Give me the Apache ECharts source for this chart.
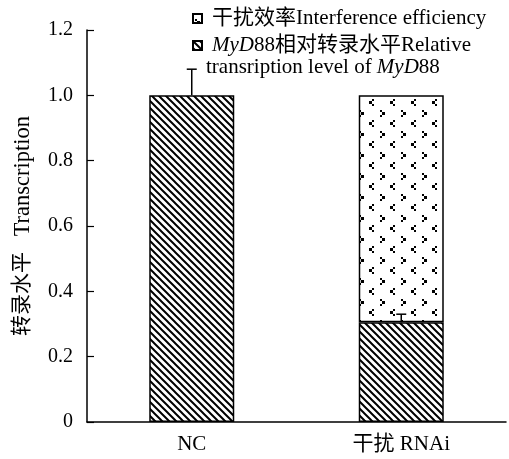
<!DOCTYPE html>
<html>
<head>
<meta charset="utf-8">
<script src="https://cdn.jsdelivr.net/npm/echarts@6/dist/echarts.min.js"></script>
<style>
html,body{margin:0;padding:0;background:#fff;}
#c{width:509px;height:459px;}
</style>
</head>
<body>
<div id="c"></div>
<script>
// ---- data ----
var categories = ['NC', '干扰 RNAi'];
var relativeLevel = [1.0, 0.305];          // MyD88 relative transcription level
var interferenceEff = [null, 0.695];        // interference efficiency (stacked on top)
var errorUpper = [1.08, 0.33];              // top of error bars on relative level
var yTicks = [0, 0.2, 0.4, 0.6, 0.8, 1.0, 1.2];

var FONT = "'Liberation Serif','Noto Sans CJK SC',serif";

function stripeTile() {
  var s = 7;
  var c = document.createElement('canvas');
  c.width = s; c.height = s;
  var g = c.getContext('2d');
  g.fillStyle = '#fff'; g.fillRect(0, 0, s, s);
  g.strokeStyle = '#000'; g.lineWidth = 2;
  g.beginPath();
  g.moveTo(-2, -2); g.lineTo(s + 2, s + 2);
  g.moveTo(-2, s - 2); g.lineTo(2, s + 2);
  g.moveTo(s - 2, -2); g.lineTo(s + 2, 2);
  g.stroke();
  return c;
}
function dotTile() {
  var T = 21;
  var c = document.createElement('canvas');
  c.width = T; c.height = T;
  var g = c.getContext('2d');
  g.fillStyle = '#fff'; g.fillRect(0, 0, T, T);
  g.fillStyle = '#000';
  function right(x, y) { g.fillRect(x, y, 2, 2); g.fillRect(x + 2, y + 2, 3, 3); g.fillRect(x, y + 5, 2, 2); }
  function left(x, y) { g.fillRect(x + 3, y, 2, 2); g.fillRect(x, y + 2, 3, 3); g.fillRect(x + 3, y + 5, 2, 2); }
  [-T, 0, T].forEach(function (dy) {
    right(2, 5 + dy);
    left(12, 15 + dy);
  });
  return c;
}
var stripePattern = { image: stripeTile(), repeat: 'repeat' };
var dotPattern = { image: dotTile(), repeat: 'repeat' };

var chart = echarts.init(document.getElementById('c'), null, { renderer: 'canvas' });

var errData = categories.map(function (c, i) { return [i, relativeLevel[i], errorUpper[i]]; });

var option = {
  animation: false,
  backgroundColor: '#fff',
  textStyle: { fontFamily: FONT },
  grid: { left: 87, right: 3, top: 30, bottom: 37, containLabel: false },
  legend: {
    orient: 'vertical',
    left: 187, top: 3,
    icon: 'rect',
    itemWidth: 9, itemHeight: 9, itemGap: 6,
    data: ['eff', 'rel'],
    selectedMode: false,
    formatter: function (name) {
      return name === 'eff'
        ? '{p|干扰效率Interference efficiency}'
        : '{i|MyD}{n|88相对转录水平Relative}';
    },
    textStyle: {
      fontFamily: FONT, fontSize: 21, color: '#000',
      rich: {
        p: { fontFamily: FONT, fontSize: 21, color: '#000', lineHeight: 22, padding: [0, 0, 0, 5] },
        n: { fontFamily: FONT, fontSize: 21, color: '#000', lineHeight: 22 },
        i: { fontFamily: FONT, fontSize: 21, color: '#000', fontStyle: 'italic', lineHeight: 22, padding: [0, 0, 0, 5] }
      }
    }
  },
  graphic: [{
    type: 'text', left: 206, top: 57,
    style: {
      text: '{n|transription level of }{i|MyD}{n|88}',
      rich: {
        n: { fontFamily: FONT, fontSize: 21, fill: '#000', lineHeight: 22 },
        i: { fontFamily: FONT, fontSize: 21, fill: '#000', fontStyle: 'italic', lineHeight: 22 }
      }
    }
  }],
  xAxis: {
    type: 'category',
    data: categories,
    axisLine: { lineStyle: { color: '#000', width: 1.5 } },
    axisTick: { inside: true, length: 6, lineStyle: { color: '#000', width: 1.2 } },
    axisLabel: { color: '#000', fontSize: 21, fontFamily: FONT, margin: 12 }
  },
  yAxis: {
    type: 'value',
    min: 0, max: 1.2, interval: 0.2,
    name: '{c|转录水平}   {t|Transcription}',
    nameLocation: 'middle', nameGap: 53, nameRotate: 90,
    nameTextStyle: {
      color: '#000', fontSize: 21, fontFamily: FONT,
      rich: {
        c: { fontFamily: FONT, fontSize: 21, color: '#000' },
        t: { fontFamily: FONT, fontSize: 22.5, color: '#000' }
      }
    },
    axisLine: { show: true, lineStyle: { color: '#000', width: 1.5 } },
    axisTick: { show: true, inside: true, length: 7, lineStyle: { color: '#000', width: 1.2 } },
    splitLine: { show: false },
    axisLabel: {
      color: '#000', fontSize: 20, fontFamily: FONT, margin: 14,
      formatter: function (v) { return v === 0 ? '0' : v.toFixed(1); }
    }
  },
  series: [
    {
      name: 'rel', type: 'bar', stack: 's', barWidth: 85,
      data: relativeLevel,
      itemStyle: { color: stripePattern, borderColor: '#000', borderWidth: 1.5 }
    },
    {
      name: 'eff', type: 'bar', stack: 's', barWidth: 85,
      data: interferenceEff,
      itemStyle: { color: dotPattern, borderColor: '#000', borderWidth: 1.5 }
    },
    {
      name: 'err', type: 'custom', z: 10,
      data: errData,
      renderItem: function (params, api) {
        var lo = api.coord([api.value(0), api.value(1)]);
        var hi = api.coord([api.value(0), api.value(2)]);
        var x = lo[0], half = 5;
        return {
          type: 'group',
          children: [
            { type: 'line', shape: { x1: x, y1: lo[1], x2: x, y2: hi[1] }, style: { stroke: '#000', lineWidth: 1.5 } },
            { type: 'line', shape: { x1: x - half, y1: hi[1], x2: x + half, y2: hi[1] }, style: { stroke: '#000', lineWidth: 1.5 } }
          ]
        };
      }
    }
  ]
};
chart.setOption(option);
</script>
</body>
</html>
